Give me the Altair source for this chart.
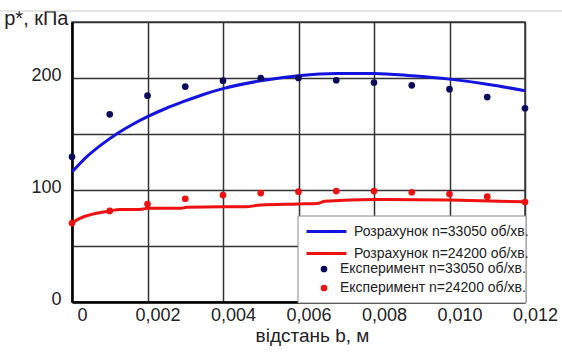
import altair as alt
import pandas as pd

# ---- data ----
calc_x_33050 = [0, 0.0004, 0.0008, 0.0012, 0.0016, 0.002, 0.0025, 0.003, 0.0035, 0.004,
                0.005, 0.006, 0.007, 0.008, 0.009, 0.010, 0.011, 0.012]
calc_y_33050 = [116, 130, 141, 150.5, 158.5, 165.5, 173, 179.5, 185.5, 190.5,
                197.5, 202, 204, 204, 202, 199, 194.5, 188.7]

calc_x_24200 = [0, 0.00021, 0.001, 0.00127, 0.0018, 0.002, 0.00286, 0.00304, 0.004, 0.0046,
                0.005, 0.006, 0.0065, 0.0067, 0.008, 0.010, 0.012]
calc_y_24200 = [70.5, 74.7, 81.3, 82.7, 82.7, 83.6, 83.6, 84.5, 85, 85,
                86.6, 87.5, 88, 89.9, 91.6, 91, 89.5]

exp_x = [0, 0.001, 0.002, 0.003, 0.004, 0.005, 0.006, 0.007, 0.008, 0.009, 0.010, 0.011, 0.012]
exp_y_33050 = [129.7, 167.6, 184.2, 192.3, 197.6, 200, 200, 198, 196, 193.5, 190, 183, 173]
exp_y_24200 = [70.5, 81.3, 87.5, 92.2, 95.5, 97.3, 98.5, 99, 99, 98, 96.4, 94, 89.3]

x_ticks = [0, 0.002, 0.004, 0.006, 0.008, 0.010, 0.012]
y_ticks = [0, 50, 100, 150, 200, 250]

line_names = ["Розрахунок n=33050 об/хв.", "Розрахунок n=24200 об/хв."]
point_names = ["Експеримент n=33050 об/хв.", "Експеримент n=24200 об/хв."]

FONT = "Liberation Sans"

lines_df = pd.concat([
    pd.DataFrame({"b": calc_x_33050, "p": calc_y_33050, "s": line_names[0]}),
    pd.DataFrame({"b": calc_x_24200, "p": calc_y_24200, "s": line_names[1]}),
])
points_df = pd.concat([
    pd.DataFrame({"b": exp_x, "p": exp_y_33050, "s": point_names[0]}),
    pd.DataFrame({"b": exp_x, "p": exp_y_24200, "s": point_names[1]}),
])

x_enc = alt.X("b:Q", scale=alt.Scale(domain=[0, 0.012], nice=False),
              axis=alt.Axis(values=x_ticks, title="відстань b, м",
                            labelExpr="datum.value == 0 ? '0' : replace(format(datum.value, '.3f'), '.', ',')",
                            labelFlush=False,
                            labelOffset=10, labelPadding=4, labelFontSize=18, labelFont=FONT,
                            labelColor="#222", titleFont=FONT, titleFontSize=19,
                            titleFontWeight="normal", titleColor="#222",
                            titleX=240, titleY=39, titleBaseline="alphabetic",
                            ticks=False, domainColor="#000", domainWidth=2.5,
                            grid=True, gridColor="#333", gridWidth=1.5))
y_enc = alt.Y("p:Q", scale=alt.Scale(domain=[0, 250], nice=False),
              axis=alt.Axis(values=y_ticks, title="p*, кПа",
                            labelExpr="(datum.value == 0 || datum.value == 100 || datum.value == 200) ? datum.label : ''",
                            labelPadding=11, labelFontSize=18, labelFont=FONT, labelColor="#222",
                            labelOffset=-3,
                            titleFont=FONT, titleFontSize=20, titleFontWeight="normal",
                            titleColor="#222", titleAngle=0, titleAlign="right",
                            titleBaseline="alphabetic", titleX=-4, titleY=2,
                            ticks=False, domainColor="#000", domainWidth=2.5,
                            grid=True, gridColor="#333", gridWidth=1.5))

top_rule = alt.Chart(pd.DataFrame({"a": [0]})).mark_rule(color="#cccccc", strokeWidth=1).encode(
    x=alt.value(-72), x2=alt.value(490), y=alt.value(-11))

legend_box = alt.Chart(pd.DataFrame({"a": [0]})).mark_rect(
    fill="white", stroke="#888", strokeWidth=1).encode(
    x=alt.value(226), x2=alt.value(454), y=alt.value(194), y2=alt.value(281))

lines = alt.Chart(lines_df).mark_line(strokeWidth=3, interpolate="monotone").encode(
    x=x_enc, y=y_enc,
    color=alt.Color("s:N", scale=alt.Scale(domain=line_names, range=["#1414e0", "#ee1111"]),
                    legend=alt.Legend(title=None, orient="none", legendX=246, legendY=201,
                                      padding=0,
                                      symbolType="M-2.857,0L2.857,0", symbolSize=196,
                                      symbolStrokeWidth=3,
                                      labelFont=FONT, labelFontSize=14, labelColor="#222",
                                      labelOffset=19, rowPadding=6, labelLimit=300)),
    detail="s:N")

points = alt.Chart(points_df).mark_circle(size=45, opacity=1).encode(
    x="b:Q", y="p:Q",
    fill=alt.Fill("s:N", scale=alt.Scale(domain=point_names, range=["#0c0c5c", "#ee1111"]),
                  legend=alt.Legend(title=None, orient="none", legendX=245, legendY=240,
                                    padding=0,
                                    symbolType="circle", symbolSize=45, symbolStrokeWidth=0,
                                    labelFont=FONT, labelFontSize=14, labelColor="#222",
                                    labelOffset=9, rowPadding=5, labelLimit=300)))

chart = alt.layer(top_rule, legend_box, lines, points).properties(
    width=453, height=280,
    autosize=alt.AutoSizeParams(type="none"),
    padding={"left": 72, "top": 22, "right": 37, "bottom": 54},
    background="white",
).configure_view(stroke="#444", strokeWidth=1.5)

chart.save("out.html", embed_options={"renderer": "svg", "actions": False})
